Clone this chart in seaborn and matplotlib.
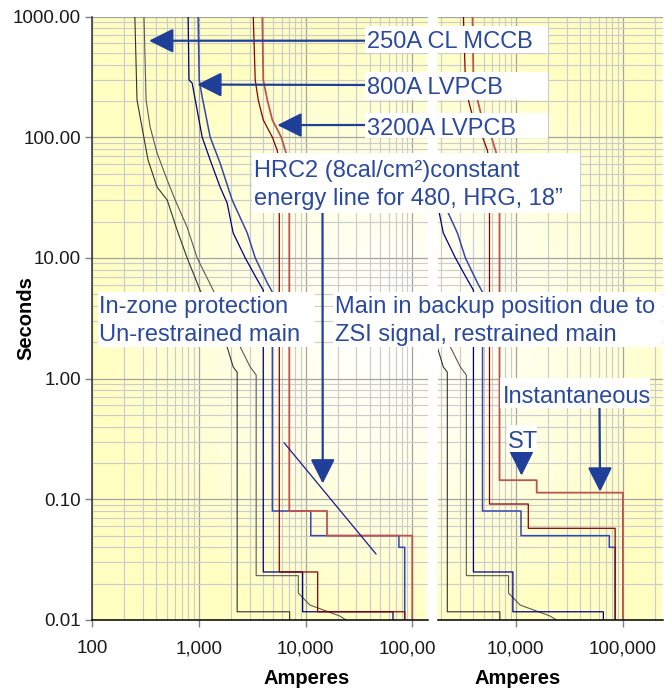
import numpy as np
import matplotlib
matplotlib.use('Agg')
import matplotlib.pyplot as plt
import seaborn as sns
from matplotlib.patches import Rectangle
from matplotlib.ticker import FuncFormatter, LogLocator, NullFormatter

# ---- curve data (amperes, seconds) ----
# 250A CL MCCB band
mccb_min_amps = [252, 264, 301, 335, 407, 506, 627, 778, 1030, 1845, 2100, 2290, 2290, 7100, 7100]
mccb_min_secs = [1000, 203, 108, 64.7, 38.6, 30.2, 17.0, 10.0, 5.4, 1.83, 1.25, 1.13, 0.0117, 0.0117, 0.01]
mccb_max_amps = [307, 321, 350, 407, 506, 601, 778, 966, 1365, 2445, 3030, 3450, 3450, 8560, 8560, 11000, 20900, 24000]
mccb_max_secs = [1000, 203, 122, 74, 44.2, 30.2, 18.0, 10.0, 5.4, 1.83, 1.25, 1.07, 0.0233, 0.0233, 0.0167, 0.0133, 0.0108, 0.01]

# 800A LVPCB band
lv800_min_amps = [795, 810, 867, 966, 1077, 1280, 1585, 1845, 2100, 2725, 3530, 4020, 4020, 9400, 9400, 66000, 66000]
lv800_min_secs = [1000, 298, 281, 168, 100, 64.7, 38.6, 28.5, 16.1, 10.0, 6.6, 5.4, 0.025, 0.025, 0.0117, 0.0117, 0.01]
lv800_max_amps = [986, 1009, 1077, 1280, 1585, 2055, 2845, 3380, 4390, 4890, 4890, 11200, 11200, 75000, 75000, 85000, 85000]
lv800_max_secs = [1000, 298, 215, 100, 61, 30.2, 16.1, 10.0, 6.2, 5.2, 0.08, 0.08, 0.05, 0.05, 0.04, 0.04, 0.01]

# 3200A LVPCB (main) long-time part
lv3200_min_amps = [3240, 3380, 3610, 4020, 4890, 5430, 5680]
lv3200_min_secs = [1000, 298, 203, 139, 100, 78, 58.9]
lv3200_max_amps = [3940, 4020, 4390, 4890, 5930, 6460, 7050]
lv3200_max_secs = [1000, 298, 203, 139, 100, 78, 58.9]

# main short-time / instantaneous: in-zone (un-restrained)
zone_min_amps = [5680, 13000, 13000, 85000, 85000]
zone_min_secs = [0.025, 0.025, 0.0117, 0.0117, 0.01]
zone_max_amps = [7050, 15900, 15900, 100000, 100000]
zone_max_secs = [0.08, 0.08, 0.05, 0.05, 0.01]

# main short-time / instantaneous: ZSI restrained
zsi_min_amps = [5680, 13100, 13100, 85000, 85000]
zsi_min_secs = [0.0914, 0.0914, 0.0575, 0.0575, 0.01]
zsi_max_amps = [7050, 15700, 15700, 100500, 100500]
zsi_max_secs = [0.144, 0.144, 0.1135, 0.1135, 0.01]

# HRC2 constant energy line
hrc2_amps = [6300, 45800]
hrc2_secs = [0.294, 0.0352]

# ---- styling ----
sns.set_theme(style='white')
plt.rcParams['font.family'] = ['Liberation Sans', 'DejaVu Sans']

W, H = 672, 688
fig = plt.figure(figsize=(W / 100, H / 100), dpi=100)


def fx(px):
    return px / W


def fy(py):
    return 1 - py / H


left_box = (92, 16.5, 427.5, 620)
right_box = (437.7, 16.5, 662.7, 620)

# yellow radial background behind both panels
yy, xx = np.mgrid[0:H, 0:W] + 0.5
t = np.clip(np.hypot(xx - 400, yy - 330) / 305, 0, 1) ** 1.3
yellow = np.array([255, 255, 194]) / 255
bg = 1 - t[..., None] * (1 - yellow)
mask = np.zeros((H, W), bool)
for x0, y0, x1, y1 in (left_box, right_box):
    mask[int(y0) + 2:int(y1), int(x0):int(x1)] = True
bg[~mask] = 1
fig.figimage(bg, xo=0, yo=0, origin='upper', zorder=-1)

ax1 = fig.add_axes([fx(left_box[0]), fy(left_box[3]), (left_box[2] - left_box[0]) / W, (left_box[3] - left_box[1]) / H])
ax2 = fig.add_axes([fx(right_box[0]), fy(right_box[3]), (right_box[2] - right_box[0]) / W, (right_box[3] - right_box[1]) / H])
ax2.set_zorder(1)

c_mccb = ('#333333', '#5a5a5a')
c_800 = ('#000080', '#3646b0')
c_3200 = ('#8b0000', '#c05252')


def draw(ax, amps, secs, color, lw):
    sns.lineplot(x=amps, y=secs, sort=False, estimator=None, color=color, lw=lw, ax=ax)


for ax, tails in ((ax1, (zone_min_amps, zone_min_secs, zone_max_amps, zone_max_secs)),
                  (ax2, (zsi_min_amps, zsi_min_secs, zsi_max_amps, zsi_max_secs))):
    draw(ax, mccb_min_amps, mccb_min_secs, c_mccb[0], 0.8)
    draw(ax, mccb_max_amps, mccb_max_secs, c_mccb[1], 0.8)
    draw(ax, lv800_min_amps, lv800_min_secs, c_800[0], 0.9)
    draw(ax, lv800_max_amps, lv800_max_secs, c_800[1], 1.1)
    draw(ax, lv3200_min_amps + tails[0], lv3200_min_secs + tails[1], c_3200[0], 0.9)
    draw(ax, lv3200_max_amps + tails[2], lv3200_max_secs + tails[3], c_3200[1], 1.3)

draw(ax1, hrc2_amps, hrc2_secs, '#1a1a8a', 0.9)

for ax, xlim in ((ax1, (100, 138900)), (ax2, (1862, 236800))):
    ax.set_xscale('log')
    ax.set_yscale('log')
    ax.set_xlim(*xlim)
    ax.set_ylim(0.01, 1000)
    ax.set_facecolor('none')
    for axis in (ax.xaxis, ax.yaxis):
        axis.set_major_locator(LogLocator(base=10))
        axis.set_minor_locator(LogLocator(base=10, subs=np.arange(2, 10), numticks=20))
        axis.set_minor_formatter(NullFormatter())
    ax.grid(which='minor', color='#cccccc', lw=0.85)
    ax.grid(which='major', color='#a4a4a4', lw=0.9)
    ax.set_axisbelow(True)
    ax.xaxis.set_major_formatter(FuncFormatter(lambda v, p: f'{v:,.0f}'))
    ax.tick_params(which='minor', length=0)
    ax.tick_params(axis='x', which='major', bottom=True, length=5, width=1, color='#808080',
                   labelsize=13.5, pad=9.5, labelcolor='#1a1a1a')
    for s in ('top', 'right'):
        ax.spines[s].set_visible(False)
    ax.spines['bottom'].set_color('black')
    ax.spines['bottom'].set_linewidth(1.1)
    ax.set_xlabel('Amperes', fontsize=14.5, fontweight='bold', color='black')

ax1.yaxis.set_major_formatter(FuncFormatter(lambda v, p: f'{v:.2f}'))
ax1.tick_params(axis='y', which='major', left=True, length=5, width=1, color='#808080',
                labelsize=13.5, pad=3, labelcolor='#1a1a1a')
ax1.spines['left'].set_color('#303030')
ax1.spines['left'].set_linewidth(1.1)
ax1.set_ylabel('Seconds', fontsize=14.5, fontweight='bold', color='black')
ax1.yaxis.set_label_coords((35 - 92) / 335.5, 0.5)
ax1.xaxis.set_label_coords(0.639, -0.081)

ax2.spines['left'].set_visible(False)
ax2.tick_params(axis='y', which='both', left=False, labelleft=False)
ax2.set_ylabel('')
ax2.xaxis.set_label_coords(0.355, -0.081)

# white strip under the right panel hides the clipped left tick label
fig.add_artist(Rectangle((fx(436), 0), 1 - fx(436), fy(621), transform=fig.transFigure,
                         facecolor='white', edgecolor='none', zorder=0.5))

# ---- call-outs ----
arrow_c = '#1f3f99'
text_c = '#2b4a9e'
arrow_kw = dict(arrowstyle='-|>,head_length=1.0,head_width=0.5', mutation_scale=15,
                color=arrow_c, lw=1.6, shrinkA=0, shrinkB=0)

# (axes, tip amps, tip seconds, start px x, start px y)
callouts = [
    (ax1, 342, 630, 366, 40.7),
    (ax1, 966, 273, 366, 85),
    (ax1, 5440, 126, 366, 125),
    (ax1, 14500, 0.135, 322.5, 212),
    (ax2, 61500, 0.1156, 599.5, 407),
    (ax2, 11330, 0.157, 521.5, 451),
]
for ax, xa, ys, sx, sy in callouts:
    ax.annotate('', xy=(xa, ys), xycoords='data', xytext=(fx(sx), fy(sy)),
                textcoords='figure fraction', arrowprops=arrow_kw)

boxes = [(365, 26, 548, 53), (365, 72, 548, 100), (365, 113, 548, 138),
         (252, 153, 580, 213), (98, 292, 315, 347), (333, 292, 662, 347),
         (500, 378, 650, 408), (507, 425, 537, 452)]
for x0, y0, x1, y1 in boxes:
    fig.add_artist(Rectangle((fx(x0), fy(y1)), (x1 - x0) / W, (y1 - y0) / H,
                             transform=fig.transFigure, facecolor='white',
                             edgecolor='none', zorder=2))

labels = [
    (367, 48.5, '250A CL MCCB'),
    (367, 93.5, '800A LVPCB'),
    (367, 135, '3200A LVPCB'),
    (254, 177, 'HRC2 (8cal/cm²)constant'),
    (254, 205, 'energy line for 480, HRG, 18”'),
    (99, 313.5, 'In-zone protection'),
    (99, 341, 'Un-restrained main'),
    (335, 313.5, 'Main in backup position due to'),
    (335, 341, 'ZSI signal, restrained main'),
    (503, 402.7, 'Instantaneous'),
    (508, 448.3, 'ST'),
]
for x, y, s in labels:
    fig.text(fx(x), fy(y), s, fontsize=17, color=text_c, ha='left', va='baseline', zorder=3)

fig.savefig('out.png', dpi=100)
